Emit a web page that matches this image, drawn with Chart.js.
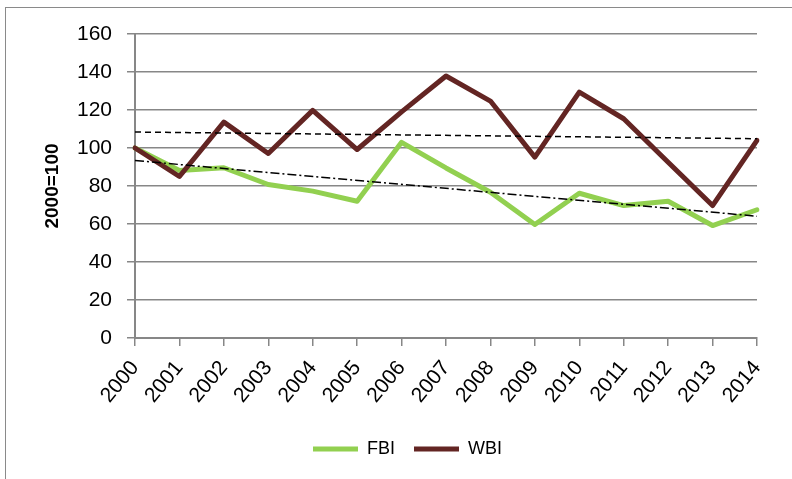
<!DOCTYPE html>
<html>
<head>
<meta charset="utf-8">
<script src="https://cdn.jsdelivr.net/npm/chart.js@4/dist/chart.umd.min.js"></script>
<style>
  html, body { margin: 0; padding: 0; background: #fff; }
  #wrap { position: relative; width: 792px; height: 479px; overflow: hidden; }
  #frame { position: absolute; left: 5px; top: 7px; width: 900px; height: 600px;
           border-left: 1.5px solid #8a8a8a; border-top: 1.5px solid #8a8a8a; }
  canvas { position: absolute; left: 0; top: 0; }
</style>
</head>
<body>
<div id="wrap">
  <div id="frame"></div>
  <canvas id="c" width="792" height="479"></canvas>
</div>
<script>
const years = ['2000','2001','2002','2003','2004','2005','2006','2007','2008','2009','2010','2011','2012','2013','2014'];
const fbi = [100, 88.2, 89.6, 80.8, 77.3, 72, 103, 89.5, 76.7, 59.7, 76.2, 69.7, 72, 59.2, 67.5];
const wbi = [100, 85, 113.6, 97.1, 119.8, 99.2, 119, 137.9, 124.7, 95.2, 129.4, 115.4, 92.5, 69.7, 104];
// trend line end values (2000 and 2014)
const fbiTrendEnds = [93.4, 64.1];
const wbiTrendEnds = [108.4, 104.9];
const yTicks = [0, 20, 40, 60, 80, 100, 120, 140, 160];

const FONT = "'Liberation Sans', Arial, sans-serif";
const GREEN = '#92D050';
const MAROON = '#632523';
const GRID = '#878787';

const trendData = ends => [{x: years[0], y: ends[0]}, {x: years[years.length - 1], y: ends[1]}];

new Chart(document.getElementById('c'), {
  type: 'line',
  data: {
    labels: years,
    datasets: [
      { label: 'FBI', data: fbi, borderColor: GREEN, backgroundColor: GREEN, borderWidth: 5,
        pointRadius: 0, tension: 0, borderJoinStyle: 'round', borderCapStyle: 'round', order: 2 },
      { label: 'WBI', data: wbi, borderColor: MAROON, backgroundColor: MAROON, borderWidth: 5,
        pointRadius: 0, tension: 0, borderJoinStyle: 'round', borderCapStyle: 'round', order: 1 },
      { label: 'trendFBI', data: trendData(fbiTrendEnds), borderColor: '#000', borderWidth: 1.5,
        borderDash: [9, 3, 2, 3], pointRadius: 0, order: 0 },
      { label: 'trendWBI', data: trendData(wbiTrendEnds), borderColor: '#000', borderWidth: 1.5,
        borderDash: [6, 4], pointRadius: 0, order: 0 }
    ]
  },
  options: {
    responsive: false,
    animation: false,
    devicePixelRatio: 1,
    layout: { padding: { top: 34, right: 35, left: 58, bottom: 11 } },
    plugins: {
      title: { display: false },
      tooltip: { enabled: false },
      legend: {
        position: 'bottom',
        labels: {
          font: { family: FONT, size: 18 },
          color: '#000',
          boxWidth: 45,
          boxHeight: 5,
          padding: 19,
          sort: (a, b) => a.datasetIndex - b.datasetIndex,
          filter: item => item.text === 'FBI' || item.text === 'WBI',
          generateLabels: chart => Chart.defaults.plugins.legend.labels.generateLabels(chart).map(l => {
            l.fillStyle = l.strokeStyle; l.lineWidth = 0; l.lineDash = []; return l;
          })
        }
      }
    },
    scales: {
      x: {
        type: 'category',
        offset: false,
        grid: { display: true, drawOnChartArea: false, drawTicks: true, tickLength: 8, color: GRID, lineWidth: 1.5 },
        border: { display: true, color: GRID, width: 2 },
        ticks: { font: { family: FONT, size: 21 }, color: '#000', minRotation: 50, maxRotation: 50,
                 autoSkip: false, padding: 10 },
        afterFit: s => { s.height = 83; s.paddingLeft = 0; s.paddingRight = 0; }
      },
      y: {
        min: 0, max: 160,
        afterBuildTicks: s => { s.ticks = yTicks.map(v => ({ value: v })); },
        grid: { color: GRID, lineWidth: 1.5, tickLength: 8 },
        border: { display: true, color: GRID, width: 2 },
        ticks: { font: { family: FONT, size: 21 }, color: '#000', padding: 15 },
        title: { display: true, text: '2000=100', color: '#000',
                 font: { family: FONT, size: 19, weight: 'bold' }, padding: { top: -17, bottom: 0 } },
        afterFit: s => { s.width = 77; s.paddingTop = 0; s.paddingBottom = 0; }
      }
    }
  }
});
</script>
</body>
</html>
